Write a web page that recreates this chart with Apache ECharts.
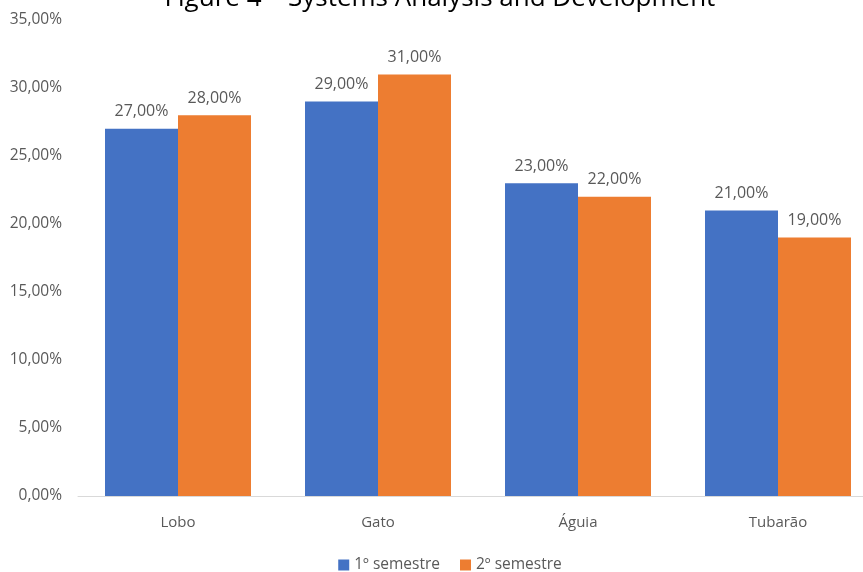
<!DOCTYPE html>
<html>
<head>
<meta charset="utf-8">
<script src="https://cdn.jsdelivr.net/npm/echarts@6/dist/echarts.min.js"></script>
<style>
  html, body { margin: 0; padding: 0; background: #fff; overflow: hidden; }
  #chart { width: 900px; height: 572px; }
</style>
</head>
<body>
<div id="chart"></div>
<script>
// Team results per semester (percent)
const categories = ['Lobo', 'Gato', 'Águia', 'Tubarão'];
const semester1 = [27, 29, 23, 21];
const semester2 = [28, 31, 22, 19];
const seriesNames = ['1º semestre', '2º semestre'];
const titleText = 'Figure 4 – Systems Analysis and Development';

const fmt = v => v.toFixed(2).replace('.', ',') + '%';
const font = '"Open Sans", "Noto Sans", sans-serif';
const textColor = '#595959';

const chart = echarts.init(document.getElementById('chart'), null, { renderer: 'canvas' });

const labelStyle = {
  show: true,
  position: 'top',
  distance: 9,
  color: textColor,
  fontFamily: font,
  fontSize: 16,
  formatter: p => fmt(p.value)
};

chart.setOption({
  animation: false,
  backgroundColor: '#ffffff',
  title: {
    text: titleText,
    left: 435,
    textAlign: 'center',
    top: -19,
    textStyle: { color: '#000', fontFamily: font, fontSize: 26, fontWeight: 'normal' }
  },
  legend: {
    bottom: -6,
    left: 'center',
    itemWidth: 11,
    itemHeight: 11,
    itemGap: 20,
    icon: 'rect',
    textStyle: { color: textColor, fontFamily: font, fontSize: 15.5 },
    data: seriesNames
  },
  grid: { left: 78, top: 20, width: 800, bottom: 76 },
  xAxis: {
    type: 'category',
    data: categories,
    axisLine: { lineStyle: { color: '#d9d9d9', width: 1 } },
    axisTick: { show: false },
    axisLabel: { color: textColor, fontFamily: font, fontSize: 15, margin: 19 }
  },
  yAxis: {
    type: 'value',
    min: 0,
    max: 35,
    interval: 5,
    splitLine: { show: false },
    axisLine: { show: false },
    axisTick: { show: false },
    axisLabel: { color: textColor, fontFamily: font, fontSize: 15.5, margin: 16, formatter: v => fmt(v) }
  },
  series: [
    {
      name: seriesNames[0],
      type: 'bar',
      data: semester1,
      barGap: '0%',
      barCategoryGap: '27%',
      itemStyle: { color: '#4472c4' },
      label: labelStyle
    },
    {
      name: seriesNames[1],
      type: 'bar',
      data: semester2,
      barGap: '0%',
      barCategoryGap: '27%',
      itemStyle: { color: '#ed7d31' },
      label: labelStyle
    }
  ]
});
</script>
</body>
</html>
